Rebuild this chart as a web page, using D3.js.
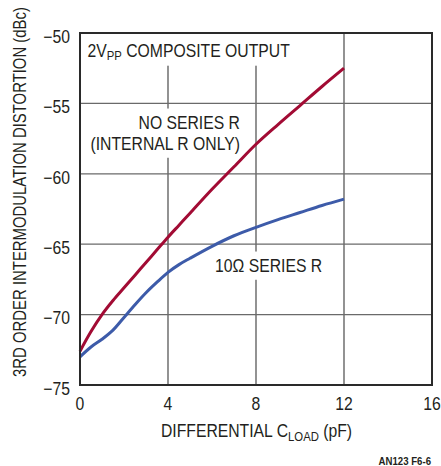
<!DOCTYPE html>
<html>
<head>
<meta charset="utf-8">
<script src="https://cdn.jsdelivr.net/npm/d3@7/dist/d3.min.js"></script>
<style>
  html, body { margin: 0; padding: 0; background: #fff; }
  svg { display: block; }
  text { font-family: "Liberation Sans", Arial, sans-serif; fill: #231f20; }
</style>
</head>
<body>
<svg id="chart" width="441" height="466"></svg>
<script>
// Differential load capacitance (pF)
const capLoad = [0, 0.5, 1, 1.5, 2, 2.5, 3, 3.5, 4, 4.5, 5, 6, 7, 8, 9, 10, 11, 12];
// 3rd order IMD (dBc), no series resistor (internal R only)
const noSeriesR = [-72.6, -71.2, -70.0, -69.0, -68.1, -67.2, -66.3, -65.4, -64.5, -63.65, -62.8, -61.1, -59.5, -57.9, -56.5, -55.15, -53.8, -52.5];
// 3rd order IMD (dBc), 10 ohm series resistor
const tenOhmSeriesR = [-73.0, -72.3, -71.75, -71.1, -70.2, -69.3, -68.45, -67.7, -67.0, -66.45, -66.0, -65.15, -64.4, -63.8, -63.25, -62.75, -62.25, -61.8];

const xTicks = [0, 4, 8, 12, 16];
const yTicks = [-75, -70, -65, -60, -55, -50];
const yTickLabels = ["\u221275", "\u221270", "\u221265", "\u221260", "\u221255", "\u221250"];

const svg = d3.select("#chart");
const x = d3.scaleLinear().domain([0, 16]).range([80, 432]);
const y = d3.scaleLinear().domain([-75, -50]).range([385, 33]);

const FS = 18;
const SQUEEZE = 0.875; // condensed lettering

// condensed text: a group placed at (px, py), text squeezed horizontally
function ctext(parent, px, py, anchor, size, rotate, squeeze) {
  const g = parent.append("g")
    .attr("transform", `translate(${px},${py})${rotate ? " rotate(" + rotate + ")" : ""} scale(${squeeze || SQUEEZE},1)`);
  return g.append("text").attr("x", 0).attr("y", 0)
    .attr("text-anchor", anchor).attr("font-size", size);
}

// grid
const grid = svg.append("g");
grid.selectAll("line.v").data(xTicks.slice(1, -1)).join("line")
  .attr("x1", d => x(d)).attr("x2", d => x(d))
  .attr("y1", y(-50)).attr("y2", y(-75))
  .attr("stroke", "#3a3a3a").attr("stroke-width", 1.1);
grid.selectAll("line.h").data(yTicks.slice(1, -1)).join("line")
  .attr("x1", x(0)).attr("x2", x(16))
  .attr("y1", d => y(d)).attr("y2", d => y(d))
  .attr("stroke", "#6a6a6a").attr("stroke-width", 1.3);

// annotation labels with white backing so grid lines break around them
const notes = svg.append("g");
function note(lines, xPos, yPos, anchor, pad, extra) {
  const g = notes.append("g");
  const bg = g.append("rect").attr("fill", "#fff");
  const tg = g.append("g");
  lines.forEach((ln, i) => {
    const t = ctext(tg, xPos, yPos + i * 21, anchor, FS);
    ln.forEach(part => {
      const s = t.append("tspan").text(part.t);
      if (part.sub) s.attr("font-size", FS * 0.72).attr("dy", 3);
      if (part.back) s.attr("dy", -3);
    });
  });
  const b = tg.node().getBBox();
  const e = Object.assign({top: 0, bottom: 0, left: 0, right: 0}, extra || {});
  bg.attr("x", b.x - pad - e.left).attr("y", b.y - pad - e.top)
    .attr("width", b.width + 2 * pad + e.left + e.right)
    .attr("height", b.height + 2 * pad + e.top + e.bottom);
}
note([[{t: "2V"}, {t: "PP", sub: true}, {t: " COMPOSITE OUTPUT", back: true}]], 87.5, 56.5, "start", 3, {top: 10});
note([[{t: "NO SERIES R"}], [{t: "(INTERNAL R ONLY)"}]], 240, 128.5, "end", 4);
note([[{t: "10\u03A9 SERIES R"}]], 215, 271.5, "start", 4);

// curves
const line = d3.line()
  .x((d, i) => x(capLoad[i]))
  .y(d => y(d))
  .curve(d3.curveCatmullRom.alpha(0.5));
svg.append("path").datum(noSeriesR).attr("d", line)
  .attr("fill", "none").attr("stroke", "#a20b34").attr("stroke-width", 3)
  .attr("stroke-linecap", "butt");
svg.append("path").datum(tenOhmSeriesR).attr("d", line)
  .attr("fill", "none").attr("stroke", "#3d5ba9").attr("stroke-width", 3)
  .attr("stroke-linecap", "butt");

// frame
svg.append("rect")
  .attr("x", x(0)).attr("y", y(-50))
  .attr("width", x(16) - x(0)).attr("height", y(-75) - y(-50))
  .attr("fill", "none").attr("stroke", "#2a2a2a").attr("stroke-width", 2);

// y tick labels
const yl = svg.append("g");
yTicks.forEach((d, i) => {
  ctext(yl, 70, y(d) + 9.7, "end", FS).text(yTickLabels[i]);
});

// x tick labels
const xl = svg.append("g");
xTicks.forEach(d => {
  ctext(xl, x(d), 410, "middle", FS).text(d);
});

// x axis title
const xt = ctext(svg, 256.5, 437, "middle", FS);
xt.append("tspan").text("DIFFERENTIAL C");
xt.append("tspan").text("LOAD").attr("font-size", FS * 0.72).attr("dy", 3.5);
xt.append("tspan").text(" (pF)").attr("dy", -3.5);

// y axis title, squeezed to fit the available height
const yTitle = "3RD ORDER INTERMODULATION DISTORTION (dBc)";
const yt = ctext(svg, 25.5, 192, "middle", FS, -90, 1).text(yTitle);
const natural = yt.node().getComputedTextLength();
d3.select(yt.node().parentNode)
  .attr("transform", `translate(25.5,192) rotate(-90) scale(${370 / natural},1)`);

// figure id
ctext(svg, 431, 465, "end", 11, 0).attr("font-weight", "bold")
  .text("AN123 F6-6");
</script>
</body>
</html>
